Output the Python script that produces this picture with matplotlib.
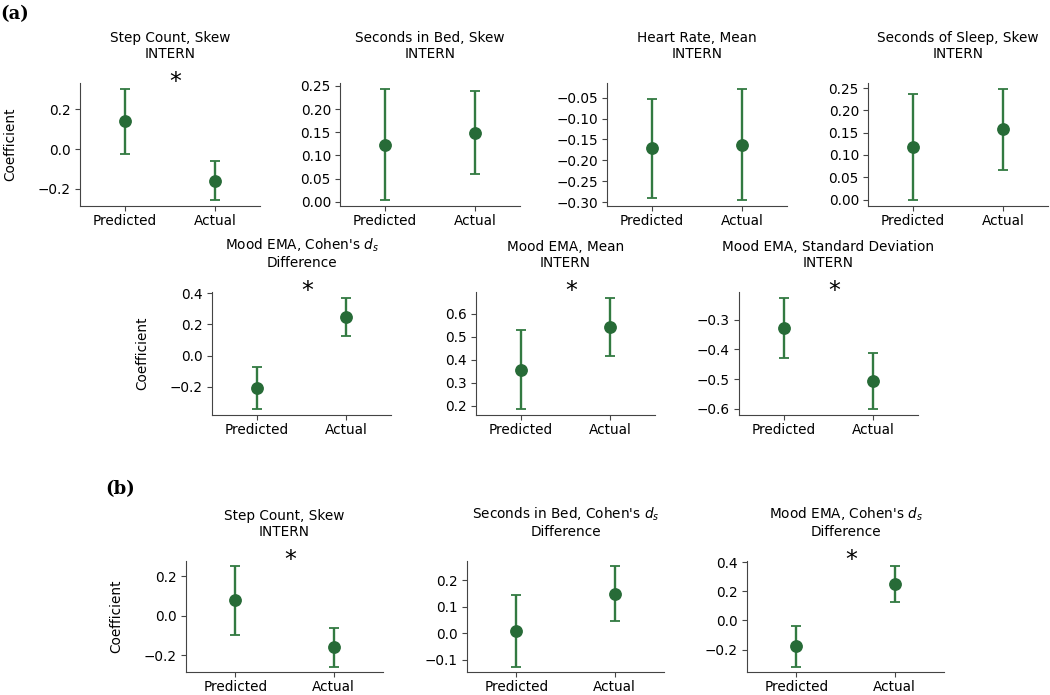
import matplotlib
matplotlib.use("Agg")
import matplotlib.pyplot as plt
from matplotlib.ticker import MultipleLocator

W, H = 1050, 695

categories = ["Predicted", "Actual"]

titles = [
    "Step Count, Skew\nINTERN",
    "Seconds in Bed, Skew\nINTERN",
    "Heart Rate, Mean\nINTERN",
    "Seconds of Sleep, Skew\nINTERN",
    "Mood EMA, Cohen's $d_s$\nDifference",
    "Mood EMA, Mean\nINTERN",
    "Mood EMA, Standard Deviation\nINTERN",
    "Step Count, Skew\nINTERN",
    "Seconds in Bed, Cohen's $d_s$\nDifference",
    "Mood EMA, Cohen's $d_s$\nDifference",
]

# point estimates (Predicted, Actual)
means = [
    [0.143, -0.160],
    [0.123, 0.149],
    [-0.1715, -0.162],
    [0.118, 0.158],
    [-0.208, 0.249],
    [0.355, 0.543],
    [-0.326, -0.507],
    [0.078, -0.160],
    [0.008, 0.148],
    [-0.179, 0.249],
]
# lower CI bound
lows = [
    [-0.024, -0.259],
    [0.003, 0.060],
    [-0.290, -0.296],
    [-0.002, 0.067],
    [-0.347, 0.124],
    [0.184, 0.417],
    [-0.427, -0.602],
    [-0.097, -0.259],
    [-0.127, 0.046],
    [-0.320, 0.126],
]
# upper CI bound
highs = [
    [0.305, -0.062],
    [0.244, 0.238],
    [-0.052, -0.028],
    [0.237, 0.249],
    [-0.071, 0.373],
    [0.528, 0.670],
    [-0.225, -0.411],
    [0.251, -0.063],
    [0.145, 0.253],
    [-0.0375, 0.375],
]
significant = [True, False, False, False, True, True, True, True, False, True]
show_ylabel = [True, False, False, False, True, False, False, True, False, False]
ytick_steps = [0.2, 0.05, 0.05, 0.05, 0.2, 0.1, 0.1, 0.2, 0.1, 0.2]

# axes boxes in pixels: (left, top, width, height)
boxes = [
    (80, 83, 180, 123), (340, 83, 180, 123), (607, 83, 180, 123), (868, 83, 180, 123),
    (212, 292, 179, 123), (476, 292, 179, 123), (739, 292, 179, 123),
    (186, 561, 197, 111), (467, 561, 197, 111), (747, 561, 197, 111),
]

MARK = "#276b37"
ERR = "#327a41"
FS = 9.8

fig = plt.figure(figsize=(W / 100, H / 100), dpi=100)

for i in range(len(titles)):
    l, t, w, h = boxes[i]
    ax = fig.add_axes([l / W, 1 - (t + h) / H, w / W, h / H])
    x = list(range(len(categories)))
    m = means[i]
    lo = [m[j] - lows[i][j] for j in x]
    hi = [highs[i][j] - m[j] for j in x]
    ax.errorbar(x, m, yerr=[lo, hi], fmt="none", ecolor=ERR, elinewidth=1.7,
                capsize=3.8, capthick=1.3, zorder=2)
    ax.plot(x, m, "o", color=MARK, markersize=8.2, linestyle="none", zorder=3)
    ax.set_xlim(-0.5, 1.5)
    ax.set_xticks(x)
    ax.set_xticklabels(categories, fontsize=FS)
    ax.yaxis.set_major_locator(MultipleLocator(ytick_steps[i]))
    ax.tick_params(axis="y", labelsize=FS, pad=3)
    ax.tick_params(axis="x", pad=2.5)
    ax.spines["top"].set_visible(False)
    ax.spines["right"].set_visible(False)
    for s in ("left", "bottom"):
        ax.spines[s].set_color("#444444")
    ax.tick_params(colors="#444444", labelcolor="black")
    ax.set_title(titles[i], fontsize=FS, pad=18)
    if show_ylabel[i]:
        ax.set_ylabel("Coefficient", fontsize=FS, labelpad=15)
    if significant[i]:
        ax.annotate("*", xy=(0.53, 1.0), xycoords="axes fraction",
                    xytext=(0, -8), textcoords="offset points",
                    ha="center", va="bottom", fontsize=17)

fig.text(0 / W, 1 - 14 / H, "(a)", fontsize=13, fontweight="bold",
         family="DejaVu Serif", ha="left", va="center")
fig.text(105 / W, 1 - 489 / H, "(b)", fontsize=13, fontweight="bold",
         family="DejaVu Serif", ha="left", va="center")

fig.savefig("out.png", dpi=100)
